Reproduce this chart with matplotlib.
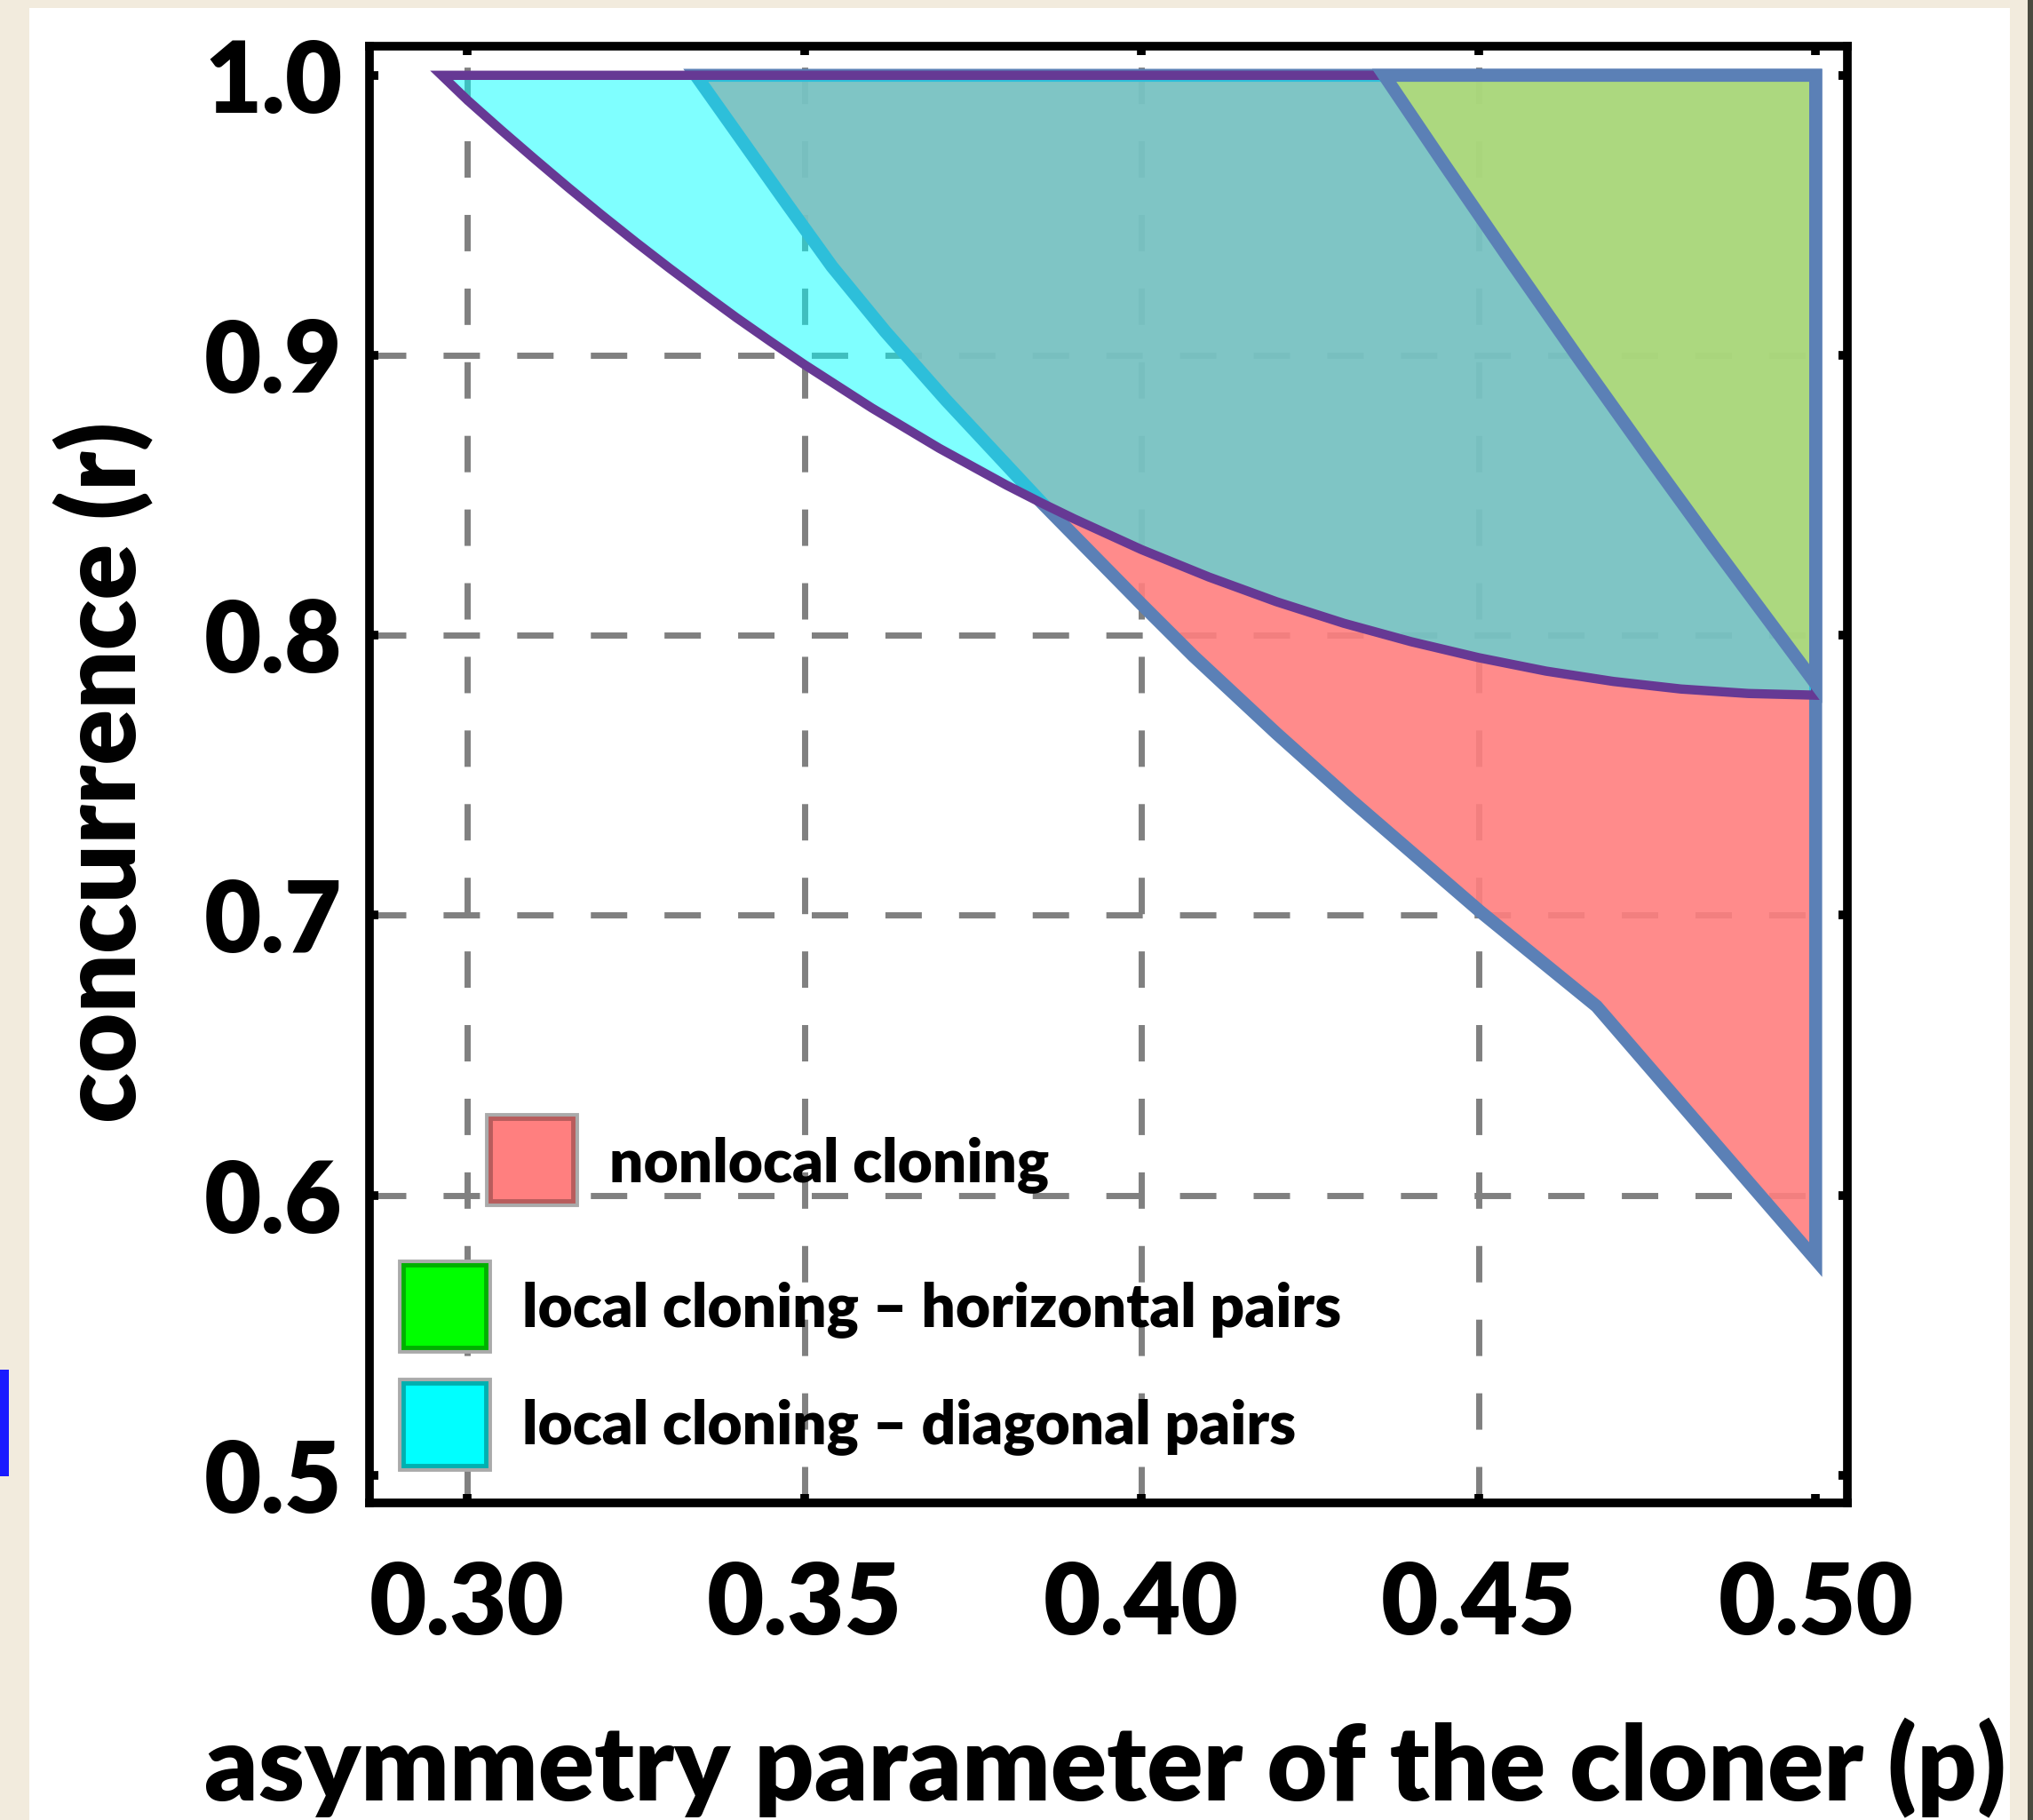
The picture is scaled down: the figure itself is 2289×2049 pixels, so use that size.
import numpy as np
import matplotlib.pyplot as plt
from matplotlib.patches import Polygon, Rectangle

plt.rcParams['font.family'] = ['Lato', 'DejaVu Sans']
plt.rcParams['font.weight'] = 'heavy'
plt.rcParams['lines.scale_dashes'] = False

# boundary of the nonlocal cloning region  (p, r)
p_nonlocal = [0.3339, 0.3475, 0.3541, 0.3620, 0.3710, 0.3853, 0.4000, 0.4077, 0.4200, 0.4310,
              0.4502, 0.4675, 0.4854, 0.5000]
r_nonlocal = [1.0000, 0.9538, 0.9317, 0.9085, 0.8840, 0.8471, 0.8111, 0.7926, 0.7650, 0.7413,
              0.7014, 0.6675, 0.6176, 0.5770]

# boundary of local cloning - diagonal pairs
p_diagonal = [0.2962, 0.3000, 0.3050, 0.3100, 0.3150, 0.3200, 0.3250, 0.3300, 0.3350, 0.3400,
              0.3450, 0.3500, 0.3600, 0.3700, 0.3800, 0.3853, 0.3900, 0.4000, 0.4100, 0.4200,
              0.4300, 0.4400, 0.4500, 0.4600, 0.4700, 0.4800, 0.4900, 0.5000]
r_diagonal = [1.0000, 0.9912, 0.9805, 0.9701, 0.9599, 0.9500, 0.9404, 0.9311, 0.9221, 0.9133,
              0.9049, 0.8967, 0.8812, 0.8668, 0.8536, 0.8471, 0.8416, 0.8306, 0.8208, 0.8120,
              0.8043, 0.7977, 0.7920, 0.7872, 0.7835, 0.7808, 0.7792, 0.7786]

# boundary of local cloning - horizontal pairs
p_horizontal = [0.4360, 0.4450, 0.4550, 0.4650, 0.4750, 0.4850, 0.5000]
r_horizontal = [1.0000, 0.9679, 0.9328, 0.8983, 0.8645, 0.8313, 0.7827]

p_corner, r_corner = 0.5, 1.0

x_ticks = [0.30, 0.35, 0.40, 0.45, 0.50]
x_tick_labels = ['0.30', '0.35', '0.40', '0.45', '0.50']
y_ticks = [0.5, 0.6, 0.7, 0.8, 0.9, 1.0]
y_tick_labels = ['0.5', '0.6', '0.7', '0.8', '0.9', '1.0']
grid_p = [0.30, 0.35, 0.40, 0.45]
grid_r = [0.6, 0.7, 0.8, 0.9]

legend_labels = ['nonlocal cloning',
                 'local cloning \u2013 horizontal pairs',
                 'local cloning \u2013 diagonal pairs']

blue   = '#5b80b6'
purple = '#663994'

fig = plt.figure(figsize=(22.89, 20.49), dpi=100)
fig.patch.set_facecolor('#f2ebdd')
fig.patches.append(Rectangle((0.01442, 0.0), 0.9742, 0.99561, transform=fig.transFigure,
                             facecolor='white', edgecolor='none', zorder=-10))
fig.patches.append(Rectangle((0.99738, 0.0), 0.00262, 1.0, transform=fig.transFigure,
                             facecolor='#4a4a40', edgecolor='none', zorder=-10))
fig.patches.append(Rectangle((0.0, 0.1889), 0.00437, 0.0585, transform=fig.transFigure,
                             facecolor='#1a1aff', edgecolor='none', zorder=-10))

ax = fig.add_axes([0.18174, 0.17423, 0.72695, 0.80039])
ax.set_facecolor('white')

for p in grid_p:
    ax.axvline(p, color='#808080', lw=5, linestyle=(0, (29.5, 30.2)), zorder=1)
for r in grid_r:
    ax.axhline(r, color='#808080', lw=5, linestyle=(0, (29.5, 30.2)), zorder=1)

# nonlocal region (red)
pts = list(zip(p_nonlocal, r_nonlocal)) + [(p_corner, r_corner)]
ax.add_patch(Polygon(pts, closed=True, facecolor=(1.0, 0.498, 0.498, 0.9),
                     edgecolor=blue, lw=10.5, joinstyle='miter', zorder=2))

# diagonal pairs region (cyan)
pts = list(zip(p_diagonal, r_diagonal)) + [(p_corner, r_corner)]
ax.add_patch(Polygon(pts, closed=True, facecolor=(0.0, 1.0, 1.0, 0.5),
                     edgecolor=purple, lw=7.5, joinstyle='miter', zorder=3))

# horizontal pairs region (green)
pts = list(zip(p_horizontal, r_horizontal)) + [(p_corner, r_corner)]
ax.add_patch(Polygon(pts, closed=True, facecolor=(0.855, 0.925, 0.227, 0.5),
                     edgecolor=blue, lw=10.5, joinstyle='miter', zorder=4))

ax.set_xlim(0.2855, 0.5047)
ax.set_ylim(0.4901, 1.0104)
ax.set_xticks(x_ticks)
ax.set_xticklabels(x_tick_labels)
ax.set_yticks(y_ticks)
ax.set_yticklabels(y_tick_labels)
ax.tick_params(axis='both', which='both', direction='in', top=True, right=True,
               length=7, width=7, color='black', labelsize=80)
ax.tick_params(axis='x', pad=46)
ax.tick_params(axis='y', pad=22)
for lab in ax.get_xticklabels() + ax.get_yticklabels():
    lab.set_fontweight('heavy')
for sp in ax.spines.values():
    sp.set_linewidth(7)
    sp.set_color('black')
    sp.set_zorder(10)

# legend
sq_w, sq_h = 0.0559, 0.0567
dx, dy = 4 / 1664, 4 / 1640
legend_face = ['#ff7f7f', '#00ff00', '#00ffff']
legend_edge = ['#b85c5c', '#00b000', '#00b0b0']
sq_x = [0.1094, 0.0505, 0.0505]
sq_y = [0.2354, 0.1348, 0.0537]
txt_x = [0.1623, 0.1034, 0.1034]
txt_y = [0.2323, 0.1329, 0.0524]
for i, lab in enumerate(legend_labels):
    x0, y0 = sq_x[i] - sq_w / 2, sq_y[i] - sq_h / 2
    ax.add_patch(Rectangle((x0 - dx, y0 - dy), sq_w + 2 * dx, sq_h + 2 * dy, transform=ax.transAxes,
                           facecolor='none', edgecolor='#aaaaaa', lw=3.5, zorder=6, clip_on=False))
    ax.add_patch(Rectangle((x0, y0), sq_w, sq_h, transform=ax.transAxes,
                           facecolor=legend_face[i], edgecolor=legend_edge[i], lw=3.5, zorder=7,
                           clip_on=False))
    ax.text(txt_x[i], txt_y[i], lab, transform=ax.transAxes, fontsize=48.7, fontweight='heavy',
            ha='left', va='center', zorder=8)

fig.text(0.0507, 0.5759, 'concurrence (r)', rotation=90, fontsize=84, fontweight='heavy',
         ha='center', va='center')
fig.text(0.5435, 0.0285, 'asymmetry parameter of the cloner (p)', fontsize=84.5, fontweight='heavy',
         ha='center', va='center')

fig.savefig('out.png', dpi=100, facecolor=fig.get_facecolor())
